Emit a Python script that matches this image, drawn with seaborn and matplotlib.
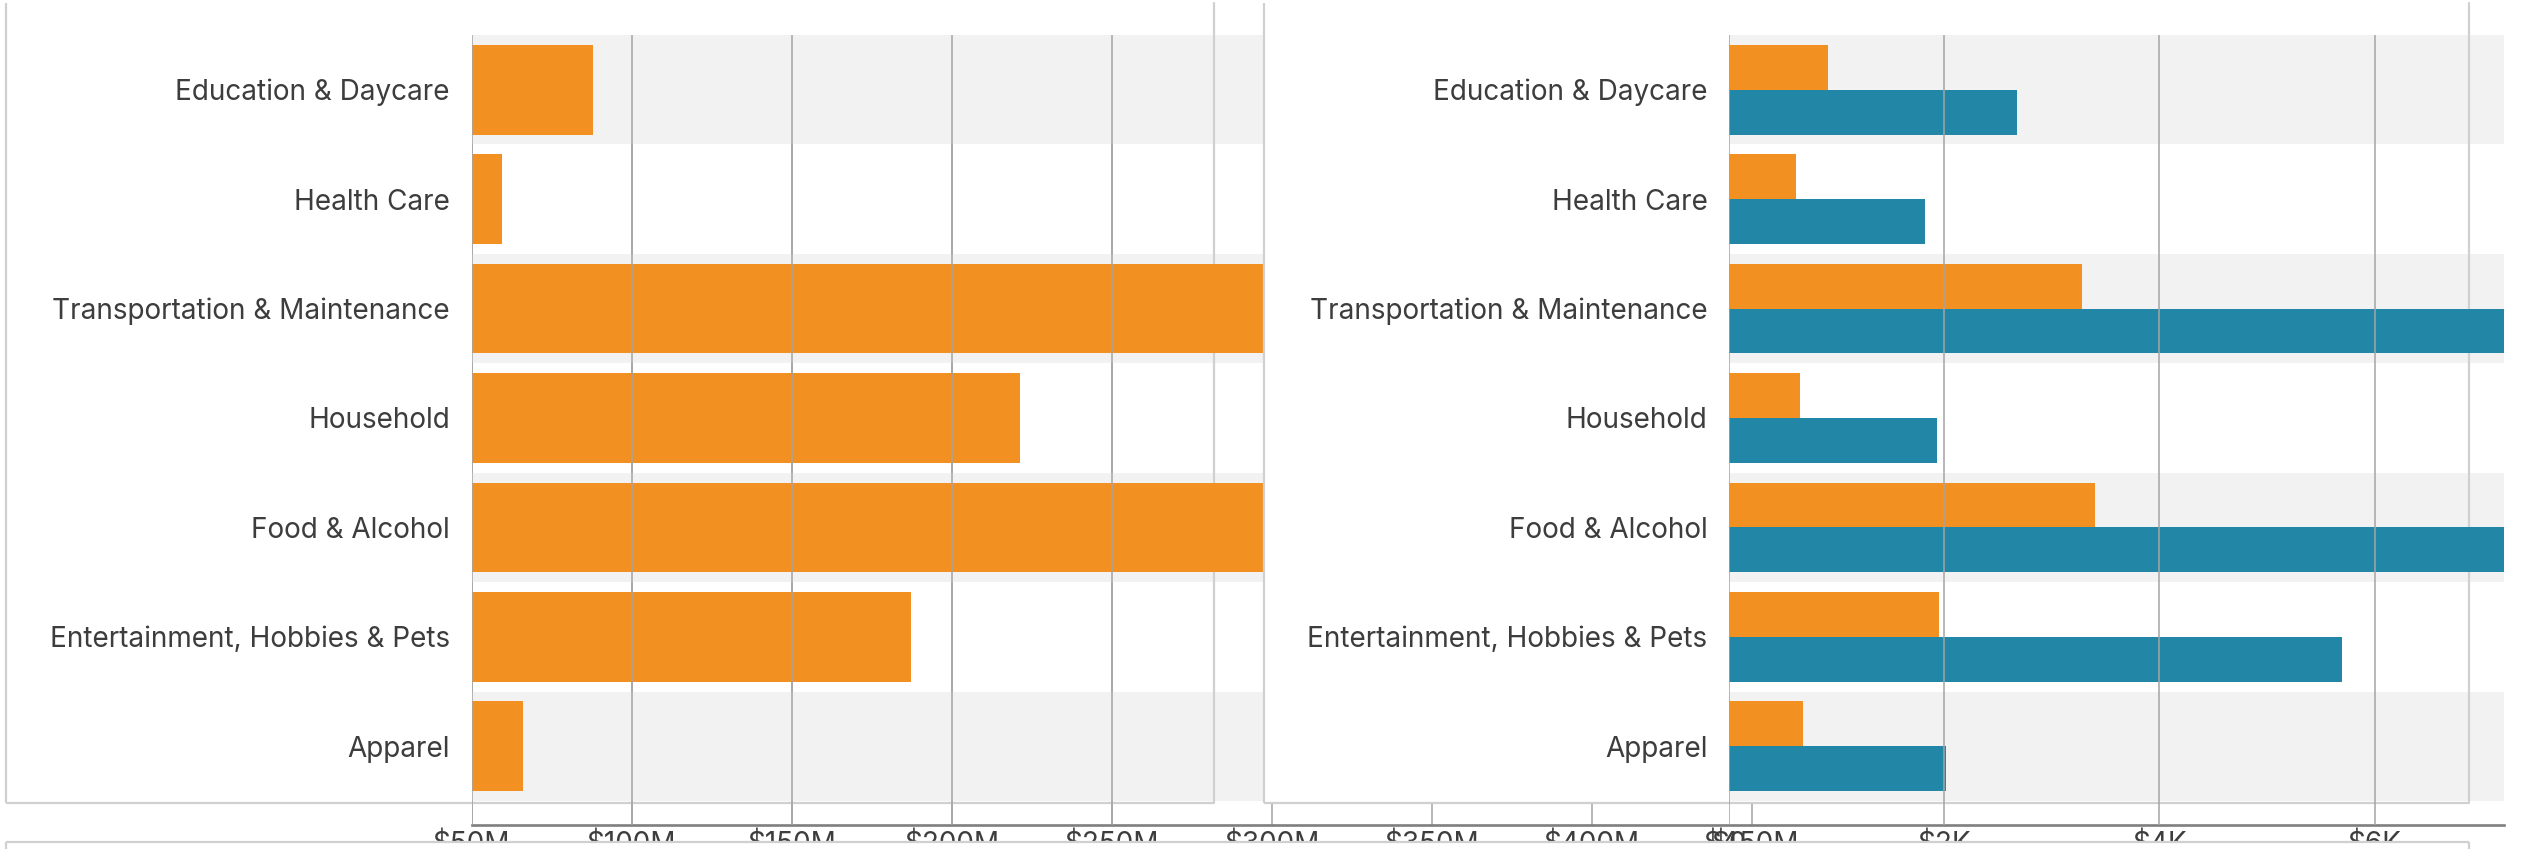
import matplotlib
matplotlib.use("Agg")
import matplotlib.pyplot as plt
from matplotlib.lines import Line2D
from matplotlib.patches import Rectangle
import pandas as pd
import seaborn as sns

# data
categories = ["Education & Daycare", "Health Care", "Transportation & Maintenance",
              "Household", "Food & Alcohol", "Entertainment, Hobbies & Pets", "Apparel"]
total_spend_m = [88.0, 59.6, 320.0, 221.4, 310.0, 187.4, 66.1]   # left panel, $M (two bars run off the axis)
series_names = ["Series A", "Series B"]
series_a = [921, 623, 3282, 660, 3402, 1950, 689]               # right panel, orange
series_b = [2677, 1822, 7600, 1933, 7900, 5697, 2017]           # right panel, blue (two run off the axis)
m_ticks = [50, 100, 150, 200, 250, 300, 350, 400, 450]
m_tick_labels = ["$50M", "$100M", "$150M", "$200M", "$250M", "$300M", "$350M", "$400M", "$450M"]
k_ticks = [0, 2000, 4000, 6000]
k_tick_labels = ["$0", "$2K", "$4K", "$6K"]

ORANGE = "#F29022"
BLUE = "#2287A6"
BAND = "#F2F2F2"
FRAME = "#D0D0D0"
GRID = "#A4A4A4"
TXT = "#3D3D3D"
FS = 20.1

sns.set_theme(style="white")
plt.rcParams['font.family'] = ['Inter', 'DejaVu Sans']

W, H = 2521, 849


def fx(px):
    return px / W


def fy(py):
    return 1 - py / H


def box(x0, y0, x1, y1):
    return [fx(x0), fy(y1), fx(x1) - fx(x0), fy(y0) - fy(y1)]


def fig_line(fig, xs, ys, z):
    fig.add_artist(Line2D([fx(x) for x in xs], [fy(y) for y in ys], transform=fig.transFigure,
                          color=FRAME, lw=1.6, zorder=z, solid_capstyle='butt'))


fig = plt.figure(figsize=(25.21, 8.49), dpi=100)

# rows occupy y 35..801 px, axes run on to the axis line at 825 px
row_px = (801 - 35) / len(categories)
extra = (825 - 801) / row_px
ylim = (len(categories) - 0.5 + extra, -0.5)

# shared bottom axis ($M)
axb = fig.add_axes(box(471.5, 35, 2504, 825))
axb.set_zorder(0)
axb.patch.set_alpha(0)
axb.set_xlim(50, 50 + (2504 - 471.5) / 3.2)
axb.set_ylim(0, 1)
axb.set_xticks(m_ticks)
axb.set_xticklabels(m_tick_labels)
axb.set_yticks([])
axb.grid(axis='x', color=GRID, lw=1.1)
for s in ["top", "left", "right"]:
    axb.spines[s].set_visible(False)
axb.spines["bottom"].set_color("#7F7F7F")
axb.spines["bottom"].set_linewidth(1.9)
axb.tick_params(axis='x', length=0, pad=4, labelsize=FS, labelcolor=TXT)

# right panel box: white fill hides the $M grid above its bottom edge
fig.add_artist(Rectangle((fx(1264), fy(803)), fx(2468.5) - fx(1264), fy(3) - fy(803),
                         transform=fig.transFigure, facecolor="white", edgecolor="none", zorder=1))
fig_line(fig, [1264, 1264], [3, 803], 3)
fig_line(fig, [1264, 2468.5], [803, 803], 1.5)
# left panel box
fig_line(fig, [5.7, 5.7], [3, 803], 1.5)
fig_line(fig, [5.7, 1213.5], [803, 803], 1.5)


def style_panel(ax, ticks):
    ax.set_xticks(ticks)
    ax.set_ylim(*ylim)
    ax.set_xlabel("")
    ax.set_ylabel("")
    ax.patch.set_alpha(0)
    for s in ax.spines.values():
        s.set_visible(False)
    for i in range(0, len(categories), 2):
        ax.axhspan(i - 0.5, i + 0.5, color=BAND, lw=0, zorder=0.5)
    ax.set_axisbelow(False)
    ax.grid(axis='x', color=GRID, lw=1.1)
    ax.grid(False, axis='y')
    ax.tick_params(axis='y', length=0, pad=15.5, labelsize=FS, labelcolor=TXT)
    ax.tick_params(axis='x', length=0, pad=4, labelsize=FS, labelcolor=TXT)


# left panel
ax1 = fig.add_axes(box(471.5, 35, 1264, 825))
ax1.set_zorder(2)
df_left = pd.DataFrame({"category": categories, "value": total_spend_m})
sns.barplot(data=df_left, x="value", y="category", orient="h", color=ORANGE,
            saturation=1, width=0.82, linewidth=0, zorder=2, ax=ax1)
ax1.set_xlim(50, 50 + (1264 - 471.5) / 3.2)
style_panel(ax1, m_ticks[:5])
ax1.tick_params(axis='x', labelbottom=False)
ax1.axvline(50 + (1213.5 - 471.5) / 3.2, ymin=(825 - 803) / 790, ymax=(825 - 3) / 790,
            color=FRAME, lw=1.6, zorder=1, clip_on=False)

# right panel
ax2 = fig.add_axes(box(1729, 35, 2504, 825))
ax2.set_zorder(2)
df_right = pd.DataFrame({
    "category": categories * 2,
    "value": series_a + series_b,
    "series": [series_names[0]] * len(categories) + [series_names[1]] * len(categories),
})
sns.barplot(data=df_right, x="value", y="category", hue="series", orient="h",
            palette=[ORANGE, BLUE], saturation=1, width=0.82, linewidth=0,
            legend=False, zorder=2, ax=ax2)
ax2.set_xlim(0, (2504 - 1729) / 0.1076)
style_panel(ax2, k_ticks)
ax2.set_xticklabels(k_tick_labels)
ax2.axvline((2468.5 - 1729) / 0.1076, ymin=(825 - 803) / 790, ymax=(825 - 3) / 790,
            color=FRAME, lw=1.6, zorder=1, clip_on=False)

# box of the panel below, cutting the tick labels
fig.add_artist(Rectangle((fx(5.7), 0), fx(2469) - fx(5.7), fy(841.7),
                         transform=fig.transFigure, facecolor="white", edgecolor="none", zorder=10))
fig_line(fig, [5.7, 2469], [841.7, 841.7], 11)
fig_line(fig, [5.7, 5.7], [841.7, 852], 11)
fig_line(fig, [2469, 2469], [841.7, 852], 11)

fig.savefig("out.png", dpi=100)
